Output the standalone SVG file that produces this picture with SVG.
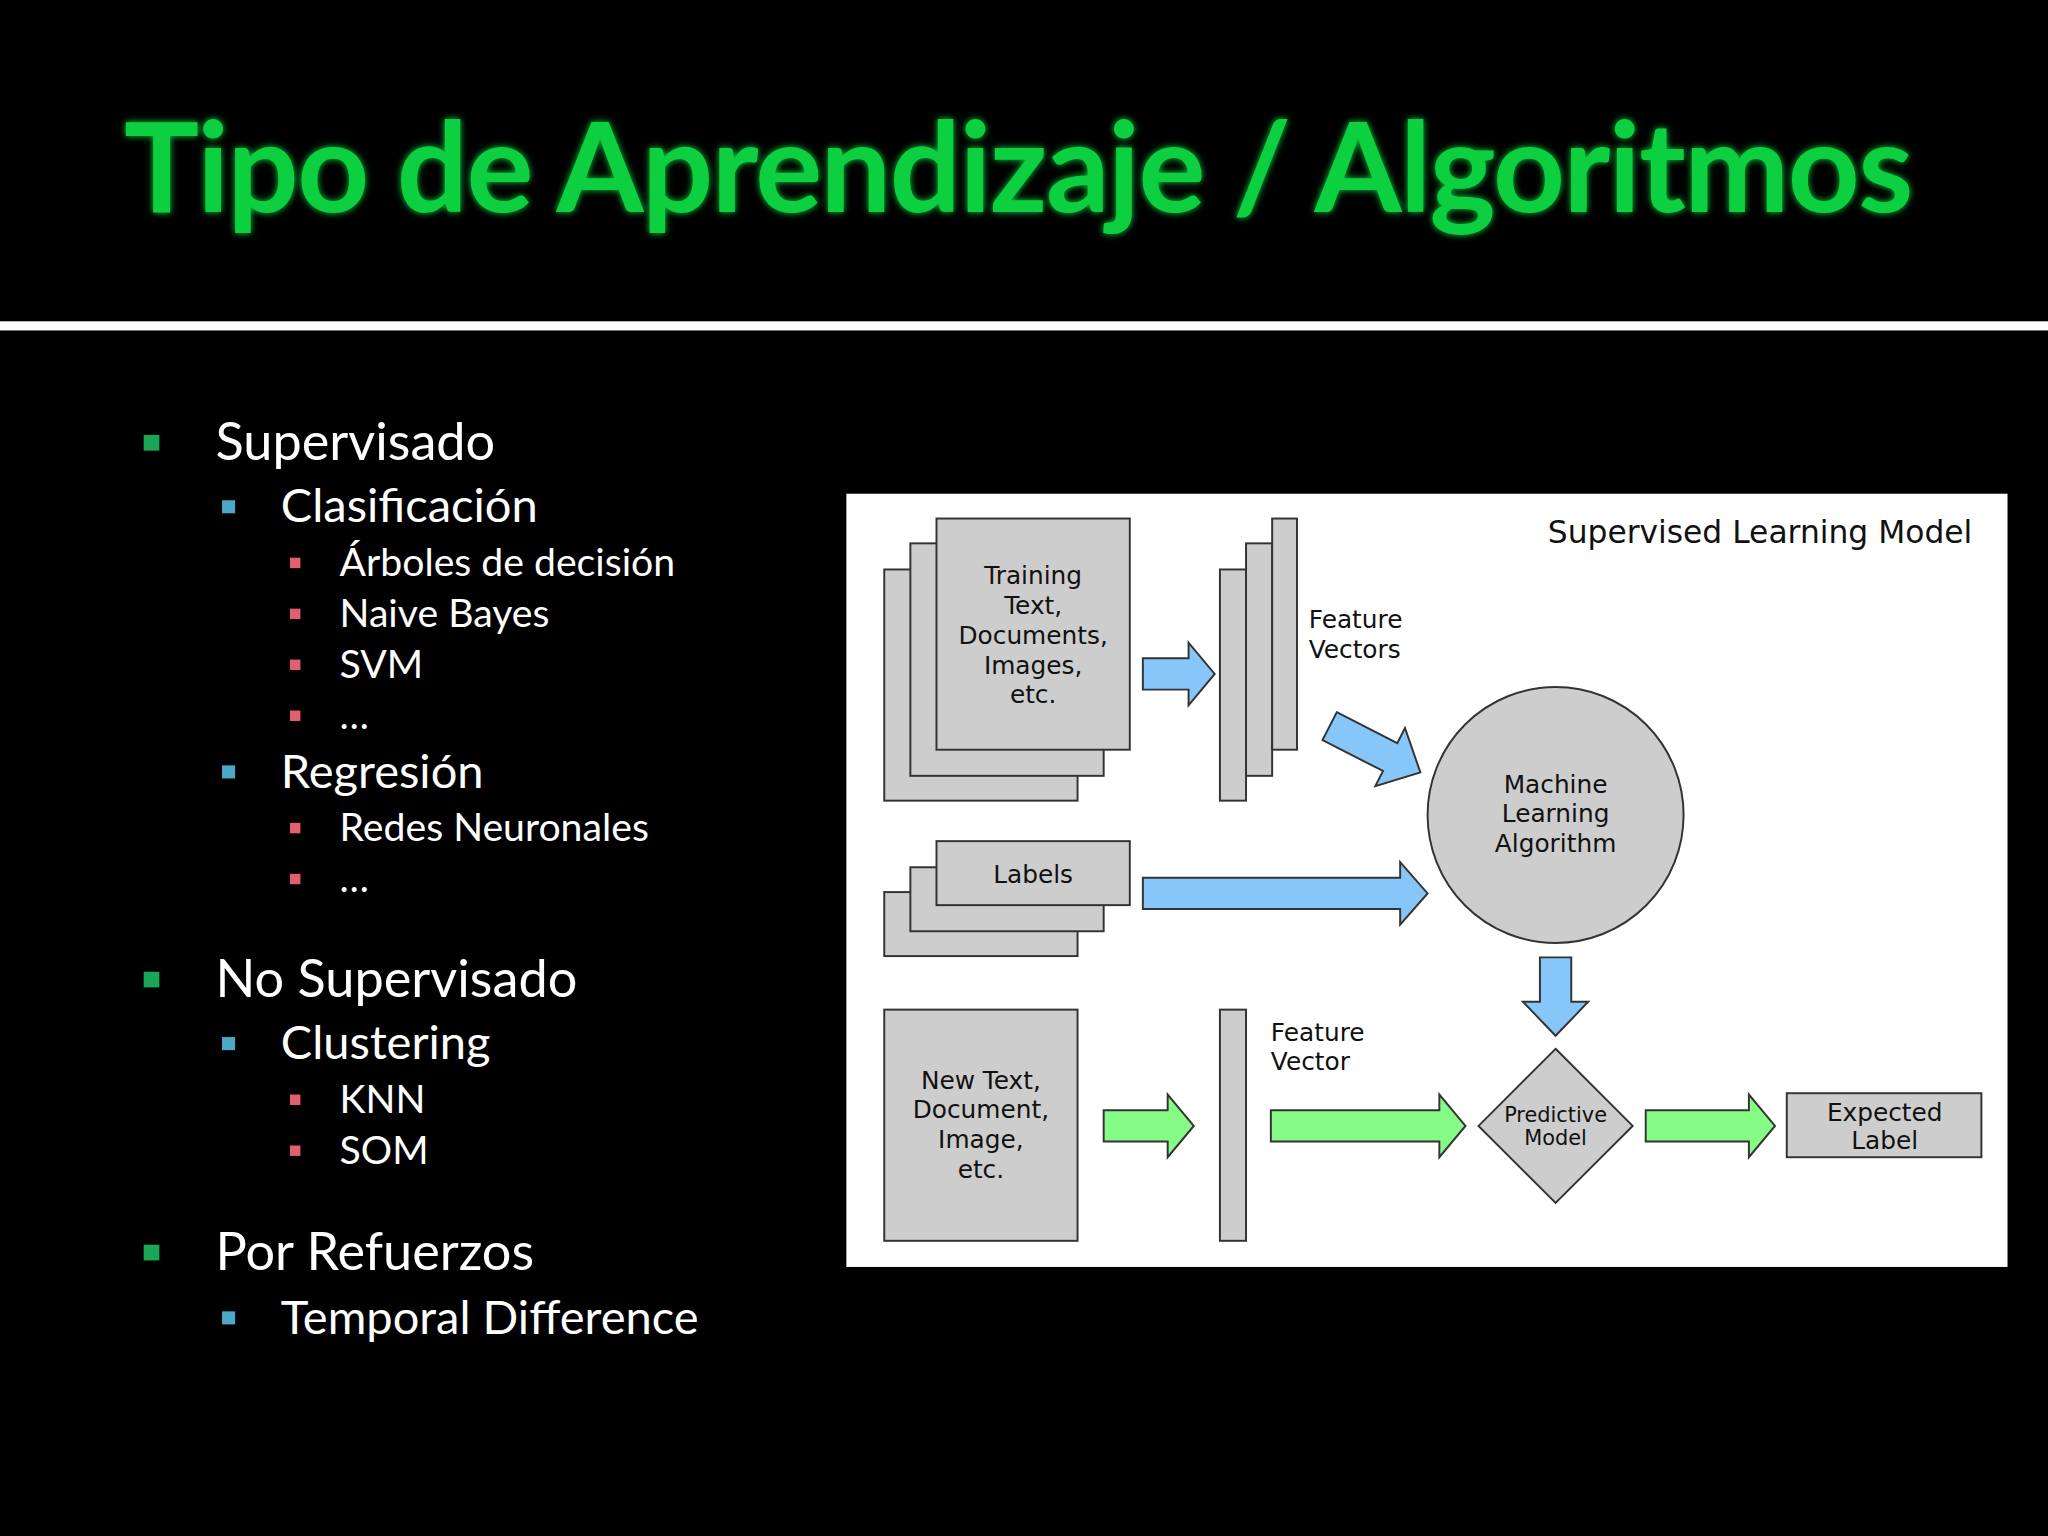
<svg xmlns="http://www.w3.org/2000/svg" width="2048" height="1536" viewBox="0 0 2048 1536">
<defs>
<style>
.t{font-family:Lato,"Open Sans",sans-serif;fill:#fff}
.d{font-family:"DejaVu Sans",sans-serif;fill:#111;text-anchor:middle;font-size:19px}
.dl{font-family:"DejaVu Sans",sans-serif;fill:#111;font-size:19px}
.box{fill:#cdcdcd;stroke:#333;stroke-width:1.5}
.ba{fill:#87c6f8;stroke:#333;stroke-width:1.5}
.ga{fill:#86fb86;stroke:#333;stroke-width:1.5}
</style>
<filter id="glow" x="-10%" y="-30%" width="120%" height="160%"><feGaussianBlur stdDeviation="3"/><feMerge><feMergeNode/><feMergeNode in="SourceGraphic"/></feMerge></filter>
</defs>
<rect width="2048" height="1536" fill="#000"/>
<g transform="scale(1.30612)">
<text x="95" y="162" font-family="Lato,'Open Sans',sans-serif" font-weight="bold" font-size="96" fill="#10d040" filter="url(#glow)" textLength="1370">Tipo de Aprendizaje / Algoritmos</text>
<rect x="0" y="246" width="1568" height="7" fill="#fff"/>
<g id="bullets">
<rect x="110" y="333" width="12" height="12" fill="#1aa656"/>
<text class="t" x="165" y="352" font-size="40">Supervisado</text>
<rect x="170" y="383" width="10" height="10" fill="#4aa8c8"/>
<text class="t" x="215" y="400" font-size="36">Clasificación</text>
<rect x="222" y="427" width="8" height="8" fill="#e06070"/>
<text class="t" x="260" y="441" font-size="30">Árboles de decisión</text>
<rect x="222" y="466" width="8" height="8" fill="#e06070"/>
<text class="t" x="260" y="480" font-size="30">Naive Bayes</text>
<rect x="222" y="505" width="8" height="8" fill="#e06070"/>
<text class="t" x="260" y="519" font-size="30">SVM</text>
<rect x="222" y="544" width="8" height="8" fill="#e06070"/>
<text class="t" x="260" y="558" font-size="30">…</text>
<rect x="170" y="586" width="10" height="10" fill="#4aa8c8"/>
<text class="t" x="215" y="603" font-size="36">Regresión</text>
<rect x="222" y="630" width="8" height="8" fill="#e06070"/>
<text class="t" x="260" y="644" font-size="30">Redes Neuronales</text>
<rect x="222" y="669" width="8" height="8" fill="#e06070"/>
<text class="t" x="260" y="683" font-size="30">…</text>
<rect x="110" y="744" width="12" height="12" fill="#1aa656"/>
<text class="t" x="165" y="763" font-size="40">No Supervisado</text>
<rect x="170" y="794" width="10" height="10" fill="#4aa8c8"/>
<text class="t" x="215" y="811" font-size="36">Clustering</text>
<rect x="222" y="838" width="8" height="8" fill="#e06070"/>
<text class="t" x="260" y="852" font-size="30">KNN</text>
<rect x="222" y="877" width="8" height="8" fill="#e06070"/>
<text class="t" x="260" y="891" font-size="30">SOM</text>
<rect x="110" y="953" width="12" height="12" fill="#1aa656"/>
<text class="t" x="165" y="972" font-size="40">Por Refuerzos</text>
<rect x="170" y="1004" width="10" height="10" fill="#4aa8c8"/>
<text class="t" x="215" y="1021" font-size="36">Temporal Difference</text>
</g>
<rect x="648" y="378" width="889" height="592" fill="#fff"/>
<text class="dl" x="1185" y="416" font-size="24" style="font-size:24px">Supervised Learning Model</text>
<g id="training">
<rect class="box" x="677" y="436" width="148" height="177"/>
<rect class="box" x="697" y="416" width="148" height="178"/>
<rect class="box" x="717" y="397" width="148" height="177"/>
<text class="d" x="791" y="447">Training</text><text class="d" x="791" y="470">Text,</text><text class="d" x="791" y="493">Documents,</text><text class="d" x="791" y="516">Images,</text><text class="d" x="791" y="538">etc.</text>
</g>
<g id="fvs">
<rect class="box" x="934" y="436" width="20" height="177"/>
<rect class="box" x="954" y="416" width="20" height="178"/>
<rect class="box" x="974" y="397" width="19" height="177"/>
<text class="dl" x="1002" y="481">Feature</text><text class="dl" x="1002" y="504">Vectors</text>
</g>
<g id="mla">
<circle class="box" cx="1191" cy="624" r="98"/>
<text class="d" x="1191" y="607">Machine</text><text class="d" x="1191" y="629">Learning</text><text class="d" x="1191" y="652">Algorithm</text>
</g>
<g id="labels">
<rect class="box" x="677" y="683" width="148" height="49"/>
<rect class="box" x="697" y="664" width="148" height="49"/>
<rect class="box" x="717" y="644" width="148" height="49"/>
<text class="d" x="791" y="676">Labels</text>
</g>
<g id="newdoc">
<rect class="box" x="677" y="773" width="148" height="177"/>
<text class="d" x="751" y="834">New Text,</text><text class="d" x="751" y="856">Document,</text><text class="d" x="751" y="879">Image,</text><text class="d" x="751" y="902">etc.</text>
</g>
<g id="fv">
<rect class="box" x="934" y="773" width="20" height="177"/>
<text class="dl" x="973" y="797">Feature</text><text class="dl" x="973" y="819">Vector</text>
</g>
<g id="pm">
<polygon class="box" points="1191,803 1250,862 1191,921 1132,862"/>
<text class="d" x="1191" y="859" style="font-size:16px">Predictive</text><text class="d" x="1191" y="877" style="font-size:16px">Model</text>
</g>
<g id="el">
<rect class="box" x="1368" y="837" width="149" height="49"/>
<text class="d" x="1443" y="858">Expected</text><text class="d" x="1443" y="880">Label</text>
</g>
<g id="connectors">
<polygon class="ba" points="875,504 910,504 910,492 930,516 910,540 910,528 875,528"/>
<polygon class="ba" transform="translate(1018,556) rotate(27)" points="0,-12 52,-12 52,-25 78,0 52,25 52,12 0,12"/>
<polygon class="ba" points="875,672 1072,672 1072,660 1093,684 1072,708 1072,696 875,696"/>
<polygon class="ba" points="1179,733 1203,733 1203,767 1216,767 1191,793 1166,767 1179,767"/>
<polygon class="ga" points="845,850 894,850 894,838 914,862 894,886 894,874 845,874"/>
<polygon class="ga" points="973,850 1102,850 1102,838 1122,862 1102,886 1102,874 973,874"/>
<polygon class="ga" points="1260,850 1339,850 1339,838 1359,862 1339,886 1339,874 1260,874"/>
</g>
</g>
</svg>
